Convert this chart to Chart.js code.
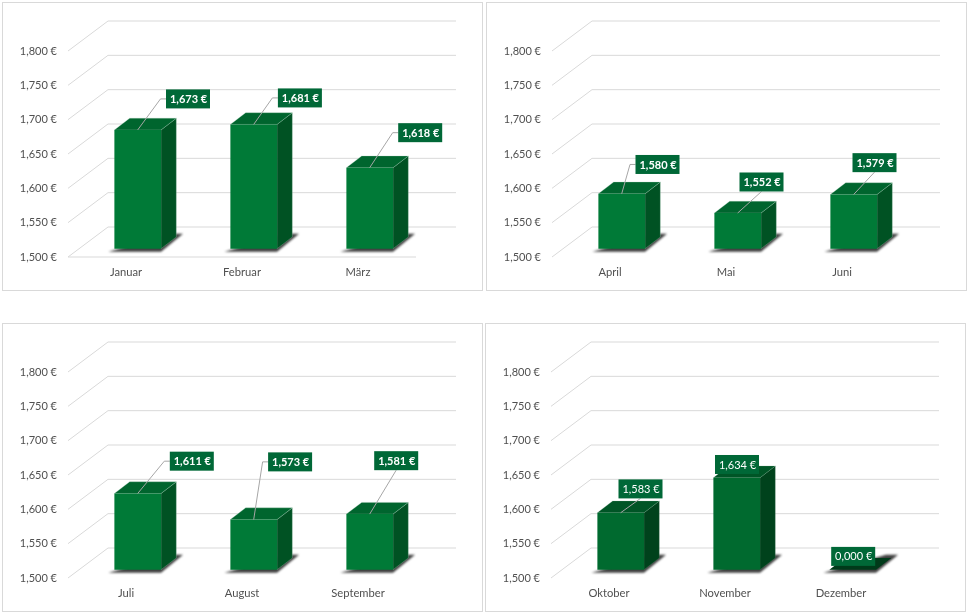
<!DOCTYPE html>
<html>
<head>
<meta charset="utf-8">
<title>Preise</title>
<script src="https://cdn.jsdelivr.net/npm/chart.js@4"></script>
<style>
  html, body { margin: 0; padding: 0; background: #fff; }
  body { position: relative; width: 968px; height: 614px; overflow: hidden; }
  canvas { position: absolute; outline: 1px solid #d9d9d9; outline-offset: -1px; }
</style>
</head>
<body>
<canvas id="chartQ1" width="481" height="289" style="left:2px;top:2px"></canvas>
<canvas id="chartQ2" width="481" height="289" style="left:486px;top:2px"></canvas>
<canvas id="chartQ3" width="481" height="289" style="left:2px;top:323px"></canvas>
<canvas id="chartQ4" width="481" height="289" style="left:485px;top:323px"></canvas>
<script>
// values
const labelsQ1 = ["Januar", "Februar", "März"];
const valuesQ1 = [1.673, 1.681, 1.618];
const labelsQ2 = ["April", "Mai", "Juni"];
const valuesQ2 = [1.580, 1.552, 1.579];
const labelsQ3 = ["Juli", "August", "September"];
const valuesQ3 = [1.611, 1.573, 1.581];
const labelsQ4 = ["Oktober", "November", "Dezember"];
const valuesQ4 = [1.583, 1.634, 0];

const axisMin = 1.5;
const axisMax = 1.8;
const axisStep = 0.05;

// where each callout box sits, relative to the top of its bar
const calloutsQ1 = [[50.3, -31], [46.2, -26.5], [50.5, -35]];
const calloutsQ2 = [[35.8, -29.3], [23.8, -31], [20.8, -31.8]];
const calloutsQ3 = [[54.1, -32.3], [36.4, -57.7], [26.5, -53.4]];
const calloutsQ4 = [[19.8, -23.8], [0.3, -13.2], [0.5, -13.3]];

const lightGreens = { front: "#007a37", top: "#00652e", side: "#005223", edge: "rgba(170,210,185,0.4)" };
const darkGreens = { front: "#006a2f", top: "#005526", side: "#00421c", flat: "#003a1a", edge: "rgba(120,170,140,0.3)" };

const fontName = "Lato, 'Open Sans', sans-serif";

const wallX = 40, wallY = 30;   // depth of the side wall
const shiftX = 11.7, shiftY = 8.3; // bars stand inside the floor
const depthX = 15.3, depthY = 11.7; // depth of a bar

function euro(v) {
    return v.toFixed(3).replace(".", ",") + " €";
}

function poly(ctx, pts) {
    ctx.beginPath();
    pts.forEach((p, i) => (i ? ctx.lineTo(p[0], p[1]) : ctx.moveTo(p[0], p[1])));
    ctx.closePath();
}

const bars3d = {
    id: "bars3d",
    beforeDatasetsDraw(chart, args, opts) {
        let ctx = chart.ctx;
        let area = chart.chartArea;
        let y = chart.scales.y;

        // back wall and side wall lines
        ctx.save();
        ctx.strokeStyle = "#d9d9d9";
        ctx.lineWidth = 1;
        y.ticks.forEach((t) => {
            let py = y.getPixelForValue(t.value);
            ctx.beginPath();
            ctx.moveTo(area.left, py);
            ctx.lineTo(area.left + wallX, py - wallY);
            ctx.lineTo(area.right + wallX, py - wallY);
            ctx.stroke();
        });
        if (opts.frontLine) {
            ctx.beginPath();
            ctx.moveTo(area.left, area.bottom);
            ctx.lineTo(area.right, area.bottom);
            ctx.stroke();
        }
        ctx.restore();

        // this save is closed in afterDatasetsDraw, so the native bars get shifted too
        ctx.save();
        ctx.translate(shiftX, -shiftY);

        let b = area.bottom;
        chart.getDatasetMeta(0).data.forEach((el) => {
            let l = el.x - el.width / 2, r = el.x + el.width / 2;
            ctx.save();
            ctx.filter = "blur(1.3px)";
            ctx.fillStyle = "#404040";
            poly(ctx, [[l - 6, b + 3], [r, b + 3], [r + 22, b - 15], [r + 10, b - 15]]);
            ctx.fill();
            ctx.restore();
        });

        let values = chart.data.datasets[0].data;
        chart.getDatasetMeta(0).data.forEach((el, i) => {
            let l = el.x - el.width / 2, r = el.x + el.width / 2;
            let t = Math.min(el.y, b);
            let flat = values[i] < axisMin;
            ctx.strokeStyle = opts.colors.edge;
            ctx.lineWidth = 0.7;
            ctx.fillStyle = opts.colors.side;
            poly(ctx, [[r, t], [r + depthX, t - depthY], [r + depthX, b - depthY], [r, b]]);
            ctx.fill();
            if (!flat) ctx.stroke();
            ctx.fillStyle = flat ? opts.colors.flat : opts.colors.top;
            poly(ctx, [[l, t], [l + depthX, t - depthY], [r + depthX, t - depthY], [r, t]]);
            ctx.fill();
            if (!flat) ctx.stroke();
        });
    },
    afterDatasetsDraw(chart, args, opts) {
        let ctx = chart.ctx;
        ctx.restore();

        let values = chart.data.datasets[0].data;
        let boxW = 44, boxH = 19;
        chart.getDatasetMeta(0).data.forEach((el, i) => {
            let sx = el.x + shiftX;
            let sy = Math.min(el.y, chart.chartArea.bottom) - shiftY;
            let cx = sx + opts.callouts[i][0];
            let cy = sy + opts.callouts[i][1];
            let left = cx - boxW / 2, bottom = cy + boxH / 2;

            // leader line, skipped when the box nearly touches the bar
            if (sy - bottom > 6) {
                ctx.strokeStyle = "#a6a6a6";
                ctx.lineWidth = 1;
                ctx.beginPath();
                ctx.moveTo(sx, sy);
                if (left - sx > 10) {
                    ctx.lineTo(left - 5.5, cy);
                    ctx.lineTo(left, cy);
                } else {
                    ctx.lineTo(cx, bottom);
                }
                ctx.stroke();
            }

            ctx.fillStyle = "#006837";
            ctx.fillRect(left, cy - boxH / 2, boxW, boxH);
            ctx.fillStyle = "#fff";
            ctx.font = (opts.bold ? "bold " : "") + "11px " + fontName;
            ctx.textAlign = "center";
            ctx.textBaseline = "middle";
            ctx.fillText(euro(values[i]), cx + 0.5, cy + 0.5);
        });
    },
};

function makeChart(id, labels, values, callouts, colors, bold, frontLine) {
    return new Chart(document.getElementById(id).getContext("2d"), {
        type: "bar",
        data: {
            labels: labels,
            datasets: [
                {
                    label: "Preis",
                    data: values,
                    backgroundColor: colors.front,
                    categoryPercentage: 1,
                    barPercentage: 0.402,
                },
            ],
        },
        options: {
            responsive: false,
            animation: false,
            devicePixelRatio: 1,
            layout: { padding: { left: 0, top: 49, right: 67, bottom: 0 } },
            plugins: {
                legend: { display: false },
                title: { display: false },
                tooltip: { enabled: false },
                bars3d: { callouts, colors, bold, frontLine },
            },
            scales: {
                x: {
                    grid: { display: false, drawTicks: false },
                    border: { display: false },
                    ticks: { color: "#505050", padding: 9, font: { family: fontName, size: 11.2 }, maxRotation: 0 },
                    afterFit(s) { s.height = 34; },
                },
                y: {
                    min: axisMin,
                    max: axisMax,
                    grid: { display: false, drawTicks: false },
                    border: { display: false },
                    ticks: {
                        stepSize: axisStep,
                        color: "#505050",
                        padding: 11,
                        font: { family: fontName, size: 11 },
                        callback: (v) => euro(v),
                    },
                    afterFit(s) { s.width = 66; },
                },
            },
        },
        plugins: [bars3d],
    });
}

makeChart("chartQ1", labelsQ1, valuesQ1, calloutsQ1, lightGreens, true, true);
makeChart("chartQ2", labelsQ2, valuesQ2, calloutsQ2, lightGreens, true, false);
makeChart("chartQ3", labelsQ3, valuesQ3, calloutsQ3, lightGreens, true, false);
makeChart("chartQ4", labelsQ4, valuesQ4, calloutsQ4, darkGreens, false, false);
</script>
</body>
</html>
